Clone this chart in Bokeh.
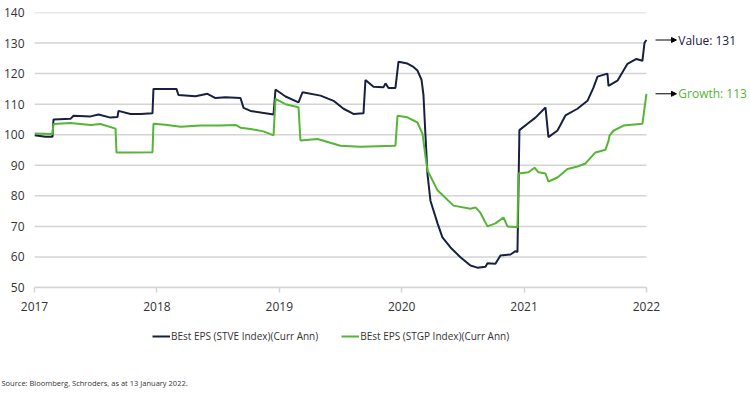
from bokeh.plotting import figure
from bokeh.layouts import column
from bokeh.models import (Range1d, FixedTicker, Legend, LegendItem, Label, Arrow, NormalHead,
                          Title)
from bokeh.embed import file_html
from bokeh.resources import INLINE

# ---- data (decimal years, index level) ----
value_years = [2017.000, 2017.090, 2017.147, 2017.155, 2017.294, 2017.319, 2017.458, 2017.523,
               2017.621, 2017.678, 2017.686, 2017.784, 2017.866, 2017.964, 2017.972, 2018.160,
               2018.176, 2018.315, 2018.413, 2018.479, 2018.560, 2018.683, 2018.708, 2018.765,
               2018.953, 2018.969, 2019.051, 2019.157, 2019.190, 2019.337, 2019.443, 2019.525,
               2019.606, 2019.688, 2019.704, 2019.770, 2019.851, 2019.868, 2019.892, 2019.949,
               2019.974, 2020.047, 2020.096, 2020.129, 2020.162, 2020.178, 2020.194, 2020.211,
               2020.235, 2020.293, 2020.333, 2020.399, 2020.480, 2020.562, 2020.619, 2020.685,
               2020.701, 2020.766, 2020.807, 2020.889, 2020.930, 2020.946, 2020.962, 2021.028,
               2021.093, 2021.175, 2021.199, 2021.273, 2021.338, 2021.436, 2021.518, 2021.567,
               2021.600, 2021.681, 2021.690, 2021.763, 2021.845, 2021.918, 2021.967, 2021.984,
               2022.000]
value_eps = [99.8, 99.3, 99.3, 105.0, 105.2, 106.2, 106.0, 106.6,
             105.6, 105.8, 107.8, 106.8, 106.8, 107.0, 115.0, 115.0,
             113.0, 112.6, 113.4, 112.0, 112.3, 112.0, 108.8, 107.8,
             106.6, 114.8, 112.5, 110.6, 113.9, 112.8, 111.1, 108.5,
             106.8, 107.0, 117.9, 115.7, 115.5, 116.8, 115.3, 115.3,
             123.9, 123.3, 122.2, 121.0, 118.0, 113.0, 100.0, 87.0,
             78.4, 71.0, 66.4, 63.1, 59.9, 57.2, 56.5, 56.8,
             57.9, 57.8, 60.5, 60.8, 61.9, 61.6, 101.5, 103.6,
             105.6, 108.9, 99.2, 101.4, 106.3, 108.5, 111.1, 115.4,
             119.0, 120.0, 116.0, 117.7, 123.2, 124.8, 124.2, 130.1,
             131.0]

growth_years = [2017.000, 2017.147, 2017.155, 2017.294, 2017.458, 2017.539, 2017.662, 2017.670,
                2017.784, 2017.964, 2017.972, 2018.070, 2018.193, 2018.356, 2018.520, 2018.642,
                2018.683, 2018.765, 2018.871, 2018.953, 2018.969, 2019.051, 2019.157, 2019.173,
                2019.312, 2019.500, 2019.663, 2019.949, 2019.966, 2020.047, 2020.129, 2020.170,
                2020.194, 2020.211, 2020.293, 2020.423, 2020.562, 2020.603, 2020.644, 2020.701,
                2020.766, 2020.832, 2020.864, 2020.946, 2020.954, 2021.036, 2021.085, 2021.118,
                2021.175, 2021.199, 2021.273, 2021.355, 2021.436, 2021.502, 2021.583, 2021.665,
                2021.690, 2021.698, 2021.730, 2021.812, 2021.967, 2022.000]
growth_eps = [100.4, 100.2, 103.5, 103.8, 103.2, 103.5, 102.0, 94.2,
              94.2, 94.3, 103.6, 103.3, 102.6, 103.0, 103.0, 103.2,
              102.3, 101.9, 101.1, 99.8, 111.7, 110.0, 109.0, 98.1,
              98.6, 96.4, 96.1, 96.4, 106.2, 105.7, 104.0, 100.3,
              93.0, 88.3, 81.8, 76.8, 75.8, 76.2, 74.4, 70.0,
              71.0, 72.9, 70.0, 69.7, 87.3, 87.7, 89.2, 87.7,
              87.3, 84.7, 86.0, 88.8, 89.6, 90.6, 94.2, 95.1,
              98.0, 99.7, 101.3, 103.0, 103.6, 113.4]

year_ticks = [2017, 2018, 2019, 2020, 2021, 2022]
y_ticks = [50, 60, 70, 80, 90, 100, 110, 120, 130, 140]
value_name = "BEst EPS (STVE Index)(Curr Ann)"
growth_name = "BEst EPS (STGP Index)(Curr Ann)"
source_text = "Source: Bloomberg, Schroders, as at 13 January 2022."

NAVY = "#17213f"
GREEN = "#55b535"
GRID = "#d4d4d4"
TXT = "#333333"
FONT = "Open Sans"
W = 750
H1 = 319
H2 = 74
LEFT = 34

x0, x1 = year_ticks[0], year_ticks[-1]
# main chart: the frame runs on to the right edge so the end labels stay visible
p = figure(width=W, height=H1, output_backend="svg", toolbar_location=None,
           x_range=Range1d(x0, x1 + 0.85), y_range=Range1d(y_ticks[0], y_ticks[-1]),
           min_border_left=LEFT, min_border_right=0, min_border_top=12, min_border_bottom=32)
p.outline_line_color = None
p.background_fill_color = "white"
p.border_fill_color = "white"

# horizontal grid lines limited to the date span
p.segment(x0=[x0] * len(y_ticks), x1=[x1] * len(y_ticks), y0=y_ticks, y1=y_ticks,
          line_color=GRID, line_width=1.5)

r_val = p.line(value_years, value_eps, line_color=NAVY, line_width=2)
r_gro = p.line(growth_years, growth_eps, line_color=GREEN, line_width=2)

# axes
p.xaxis.ticker = FixedTicker(ticks=year_ticks)
p.xaxis.bounds = (x0, x1)
p.yaxis.ticker = FixedTicker(ticks=y_ticks)
p.xaxis.axis_line_color = GRID
p.xaxis.axis_line_width = 1.5
p.xaxis.major_tick_line_color = GRID
p.xaxis.major_tick_line_width = 1.5
p.xaxis.major_tick_out = 5
p.xaxis.major_tick_in = 0
p.xaxis.minor_tick_line_color = None
p.xaxis.major_label_standoff = 9
p.yaxis.axis_line_color = None
p.yaxis.major_tick_line_color = None
p.yaxis.minor_tick_line_color = None
p.yaxis.major_tick_out = 0
p.yaxis.major_tick_in = 0
p.yaxis.major_label_standoff = 10
for ax in (p.xaxis, p.yaxis):
    ax.major_label_text_font = FONT
    ax.major_label_text_font_size = "12px"
    ax.major_label_text_color = TXT
p.xgrid.grid_line_color = None
p.ygrid.grid_line_color = None

# end-of-line annotations
last_val = value_eps[-1]
last_gro = growth_eps[-1]
for yv, txt, col in [(last_val, f"Value: {round(last_val)}", NAVY),
                     (last_gro, f"Growth: {round(last_gro)}", GREEN)]:
    p.add_layout(Arrow(end=NormalHead(size=5, line_color="black", fill_color="black"),
                       x_start=x1 + 0.074, y_start=yv, x_end=x1 + 0.245, y_end=yv,
                       line_color="black", line_width=1))
    p.add_layout(Label(x=x1 + 0.26, y=yv, text=txt, text_baseline="middle",
                       text_font=FONT, text_font_size="12px", text_color=col))

# strip below: legend and source note (series redrawn out of view as legend keys)
q = figure(width=W, height=H2, output_backend="svg", toolbar_location=None,
           x_range=Range1d(0, 1), y_range=Range1d(0, 1),
           x_axis_location=None, y_axis_location=None,
           min_border_left=LEFT, min_border_right=0, min_border_top=0, min_border_bottom=0)
q.outline_line_color = None
q.grid.visible = False
k_val = q.line(value_years, value_eps, line_color=NAVY, line_width=2)
k_gro = q.line(growth_years, growth_eps, line_color=GREEN, line_width=2)
legend = Legend(items=[LegendItem(label=value_name, renderers=[k_val]),
                       LegendItem(label=growth_name, renderers=[k_gro])],
                location=(152 - LEFT, 25), orientation="horizontal",
                border_line_color=None, background_fill_alpha=0,
                padding=0, margin=0, spacing=23, glyph_width=18, glyph_height=16,
                label_height=16, label_standoff=1,
                label_text_font=FONT, label_text_font_size="10px", label_text_color=TXT)
q.add_layout(legend, "center")
q.add_layout(Title(text=source_text, align="left", offset=1 - LEFT, standoff=12,
                   text_font=FONT, text_font_size="7.5px", text_font_style="normal",
                   text_color=TXT), "below")

open("out.html", "w").write(file_html(column(p, q, spacing=0), INLINE))
